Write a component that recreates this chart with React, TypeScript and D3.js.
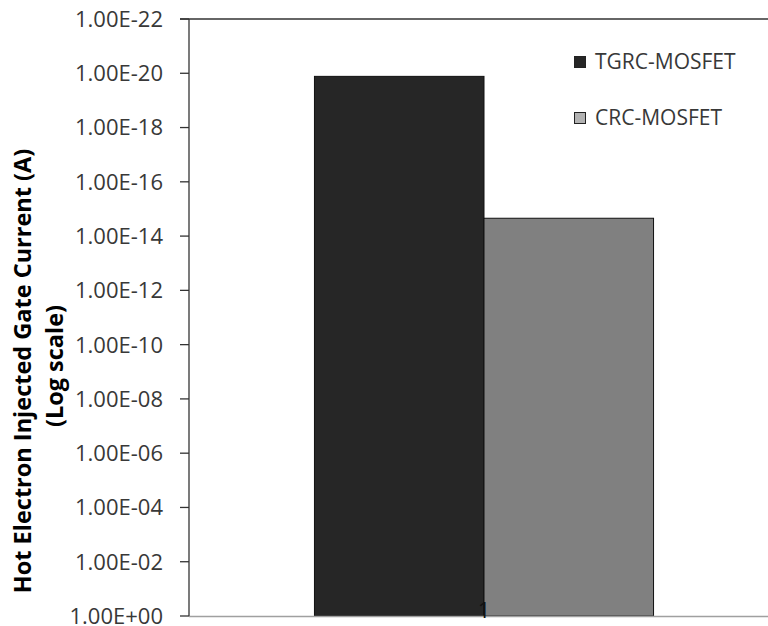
import React from "react";
import * as d3 from "d3";

const categories = ["1"];
const seriesNames = ["TGRC-MOSFET", "CRC-MOSFET"];
const seriesValues = [1.3e-20, 2.2e-15];
const barColors = ["#262626", "#808080"];
const legendColors = ["#262626", "#b2b2b2"];
const tickValues = [1e0, 1e-2, 1e-4, 1e-6, 1e-8, 1e-10, 1e-12, 1e-14, 1e-16, 1e-18, 1e-20, 1e-22];
const tickLabels = ["1.00E+00", "1.00E-02", "1.00E-04", "1.00E-06", "1.00E-08", "1.00E-10", "1.00E-12", "1.00E-14", "1.00E-16", "1.00E-18", "1.00E-20", "1.00E-22"];
const yTitle1 = "Hot Electron Injected Gate Current (A)";
const yTitle2 = "(Log scale)";

const W = 768;
const H = 626;
const FONT = "'Open Sans', 'Noto Sans', sans-serif";

export default function App() {
  const left = 189;
  const top = 19;
  const bottom = 616;
  const y = d3.scaleLog().domain([1, 1e-22]).range([bottom, top]);
  const x = d3.scaleBand().domain(categories).range([left, 779]).paddingInner(0).paddingOuter(0.37);
  const xs = d3.scaleBand().domain(seriesNames).range([0, x.bandwidth()]);

  return (
    <svg width={W} height={H} style={{ position: "absolute", left: 0, top: 0, background: "#fff" }} fontFamily={FONT}>
      <rect width={W} height={H} fill="#fff" />
      {/* bars */}
      {categories.map((c) =>
        seriesNames.map((s, i) => {
          const bx = (x(c) as number) + (xs(s) as number);
          const by = y(seriesValues[i]);
          return (
            <rect key={c + s} x={bx} y={by} width={xs.bandwidth()} height={bottom - by}
              fill={barColors[i]} stroke="#111" strokeWidth={1} />
          );
        })
      )}
      {/* bottom axis line */}
      <line x1={left} x2={W} y1={bottom + 0.5} y2={bottom + 0.5} stroke="#a0a0a0" strokeWidth={1.6} />
      {/* top line */}
      <line x1={180} x2={W} y1={top} y2={top} stroke="#333" strokeWidth={1.3} />
      {/* y axis */}
      <line x1={left} x2={left} y1={top} y2={bottom} stroke="#333" strokeWidth={1.3} />
      {tickValues.map((v, i) => (
        <g key={i}>
          <line x1={180} x2={left} y1={y(v)} y2={y(v)} stroke="#333" strokeWidth={1.3} />
          <text x={163} y={y(v)} dy="0.36em" textAnchor="end" fontSize={22} fill="#383838">{tickLabels[i]}</text>
        </g>
      ))}
      {/* category label */}
      {categories.map((c) => (
        <text key={c} x={(x(c) as number) + x.bandwidth() / 2} y={618} textAnchor="middle" fontSize={22} fill="#111">{c}</text>
      ))}
      {/* y title */}
      <text transform={`translate(31,371) rotate(-90)`} textAnchor="middle" fontSize={23.5} fontWeight="bold" fill="#000">{yTitle1}</text>
      <text transform={`translate(63,366) rotate(-90)`} textAnchor="middle" fontSize={23.5} fontWeight="bold" fill="#000">{yTitle2}</text>
      {/* legend */}
      {seriesNames.map((s, i) => (
        <g key={s} transform={`translate(574,${56 + i * 56})`}>
          <rect x={0.5} y={0.5} width={11} height={11} fill={legendColors[i]} stroke="#222" strokeWidth={1} />
          <text x={21} y={12.5} fontSize={21} fill="#383838">{s}</text>
        </g>
      ))}
    </svg>
  );
}
